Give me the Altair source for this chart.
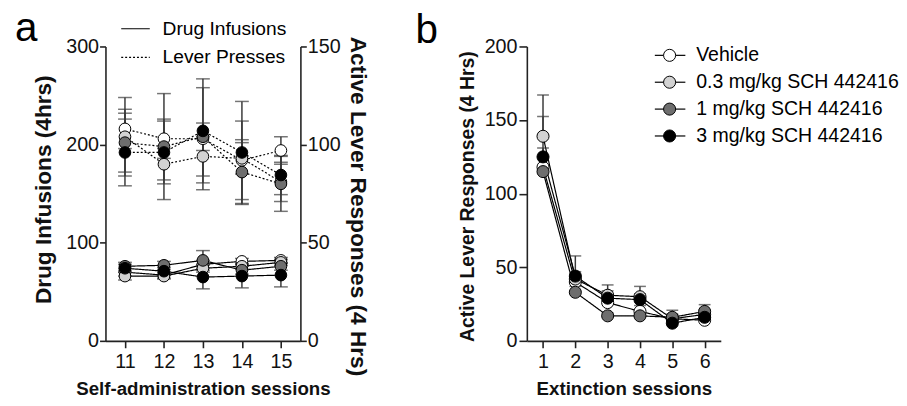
import altair as alt
import pandas as pd

FONT = "Liberation Sans"

# ---------------- data ----------------
groups = ["Vehicle", "0.3 mg/kg SCH 442416", "1 mg/kg SCH 442416", "3 mg/kg SCH 442416"]
fills = ["#ffffff", "#d2d2d2", "#6e6e6e", "#000000"]

# Panel a: self-administration sessions
sessions_a = [11, 12, 13, 14, 15]
# drug infusions (left axis)
inf_veh = [70, 67, 78, 81, 82]
inf_03 = [66, 66, 74, 76, 80]
inf_1 = [76, 77, 82, 72, 76]
inf_3 = [74, 71, 65, 66, 67]
inf_sem_veh = [4, 3, 4, 3, 3]
inf_sem_03 = [4, 3, 4, 3, 3]
inf_sem_1 = [4, 4, 10, 4, 4]
inf_sem_3 = [4, 4, 12, 12, 12]
# lever presses (right axis)
lev_veh = [108, 103, 103, 92, 97]
lev_03 = [104, 90, 94, 93, 81]
lev_1 = [101, 99, 104, 86, 80]
lev_3 = [96, 96, 107, 96, 84.5]
lev_sem_veh = [10, 10, 26, 20, 7]
lev_sem_03 = [20, 8, 10, 8, 10]
lev_sem_1 = [15, 27, 7, 16.5, 14]
lev_sem_3 = [17, 16, 26.5, 26, 10]

# Panel b: extinction sessions
sessions_b = [1, 2, 3, 4, 5, 6]
ext_veh = [118, 40, 26, 20, 15, 14]
ext_03 = [139, 42, 31, 30, 15, 18]
ext_1 = [115, 33, 17, 17, 16, 20]
ext_3 = [125, 44, 29, 28, 12, 16]
ext_sem_veh = [13, 4, 4, 4, 3, 2]
ext_sem_03 = [28, 5, 7, 7, 3, 3]
ext_sem_1 = [3, 4, 2, 2, 4.8, 4.6]
ext_sem_3 = [27.5, 13.7, 5, 4, 3, 3]

legend_a_labels = ["Drug Infusions", "Lever Presses"]
panel_labels = ["a", "b"]


def long_df(sessions, means, sems):
    rows = []
    for g, m, s in zip(groups, means, sems):
        for x, mv, sv in zip(sessions, m, s):
            rows.append({"session": x, "group": g, "mean": mv, "lo": mv - sv, "hi": mv + sv})
    return pd.DataFrame(rows)


df_inf = long_df(sessions_a, [inf_veh, inf_03, inf_1, inf_3],
                 [inf_sem_veh, inf_sem_03, inf_sem_1, inf_sem_3])
df_lev = long_df(sessions_a, [lev_veh, lev_03, lev_1, lev_3],
                 [lev_sem_veh, lev_sem_03, lev_sem_1, lev_sem_3])
df_ext = long_df(sessions_b, [ext_veh, ext_03, ext_1, ext_3],
                 [ext_sem_veh, ext_sem_03, ext_sem_1, ext_sem_3])

fill_scale = alt.Scale(domain=groups, range=fills)
AX = "#222222"
ERR = "#3a3a3a"

# ---------------- axes ----------------
x_axis_a = alt.Axis(values=sessions_a, format="d", title="Self-administration sessions",
                    labelFontSize=20, titleFontSize=19, titleFontWeight="bold",
                    tickSize=7, labelPadding=4, titlePadding=8)
x_a = alt.X("session:Q", scale=alt.Scale(domain=[10.5, 15.5], nice=False, zero=False), axis=x_axis_a)

left_axis = alt.Axis(values=[0, 100, 200, 300], title="Drug Infusions (4hrs)", orient="left",
                     labelFontSize=20, titleFontSize=23, titleFontWeight="bold",
                     tickSize=6, labelPadding=1, titlePadding=10, titleY=145)
right_axis = alt.Axis(values=[0, 50, 100, 150], title="Active Lever Responses (4 Hrs)", orient="right",
                      labelFontSize=20, titleFontSize=23, titleFontWeight="bold",
                      tickSize=6, labelPadding=1, titlePadding=6, titleY=162)

x_axis_b = alt.Axis(values=sessions_b, format="d", title="Extinction sessions",
                    labelFontSize=20, titleFontSize=19, titleFontWeight="bold",
                    tickSize=7, labelPadding=4, titlePadding=8)
x_b = alt.X("session:Q", scale=alt.Scale(domain=[0.5, 6.5], nice=False, zero=False), axis=x_axis_b)
y_axis_b = alt.Axis(values=[0, 50, 100, 150, 200], title="Active Lever Responses (4 Hrs)",
                    labelFontSize=20, titleFontSize=19.7, titleFontWeight="bold",
                    tickSize=8, labelPadding=2, titlePadding=7, titleY=152)


def series_layers(df, xx, yscale, yaxis, dash, size, cap, both=True):
    base = alt.Chart(df)
    y = alt.Y("mean:Q", scale=yscale, axis=yaxis)
    lines = base.mark_line(color="black", strokeWidth=1.2, strokeDash=dash).encode(
        x=xx, y=y, detail="group:N")
    rule = base.mark_rule(color=ERR, strokeWidth=1.5).encode(
        x=xx, y=alt.Y("lo:Q" if both else "mean:Q", scale=yscale, axis=yaxis), y2="hi:Q")
    cap_hi = base.mark_tick(orient="horizontal", size=cap, thickness=1.5, color=ERR).encode(
        x=xx, y=alt.Y("hi:Q", scale=yscale, axis=yaxis))
    layers = [rule, cap_hi]
    if both:
        cap_lo = base.mark_tick(orient="horizontal", size=cap, thickness=1.5, color=ERR).encode(
            x=xx, y=alt.Y("lo:Q", scale=yscale, axis=yaxis))
        layers.append(cap_lo)
    pts = base.mark_point(shape="circle", filled=True, size=size, stroke="black",
                          strokeWidth=1, opacity=1, fillOpacity=1).encode(
        x=xx, y=y, fill=alt.Fill("group:N", scale=fill_scale, legend=None))
    return alt.layer(lines, *layers, pts)


# ---------------- panel a ----------------
inf_layer = series_layers(df_inf, x_a, alt.Scale(domain=[0, 300], nice=False), left_axis, [1, 0], 140, 14)
lev_layer = series_layers(df_lev, x_a, alt.Scale(domain=[0, 150], nice=False), right_axis, [2, 2], 140, 14)

leg_a = []
for i, (lab, dash) in enumerate(zip(legend_a_labels, [[1, 0], [2, 2]])):
    d = pd.DataFrame({"t": [lab]})
    yv = -18 + 29 * i
    leg_a.append(alt.Chart(d).mark_rule(color="black", strokeWidth=1.2, strokeDash=dash).encode(
        x=alt.value(16), x2=alt.value(45), y=alt.value(yv)))
    leg_a.append(alt.Chart(d).mark_text(align="left", baseline="middle", fontSize=19.5, font=FONT).encode(
        x=alt.value(58), y=alt.value(yv), text="t:N"))

lab_a = alt.Chart(pd.DataFrame({"t": [panel_labels[0]]})).mark_text(
    align="left", baseline="alphabetic", fontSize=41, font=FONT).encode(
    x=alt.value(-92), y=alt.value(-6), text="t:N")

panel_a = alt.layer(inf_layer, lev_layer, *leg_a, lab_a).resolve_scale(y="independent").properties(
    width=198, height=299)

# ---------------- panel b ----------------
ext_layer = series_layers(df_ext, x_b, alt.Scale(domain=[0, 200], nice=False), y_axis_b, [1, 0], 150, 12, both=False)

leg_b = []
for i, (g, f) in enumerate(zip(groups, fills)):
    d = pd.DataFrame({"t": [g]})
    yv = 9 + 27.3 * i
    leg_b.append(alt.Chart(d).mark_rule(color="black", strokeWidth=1.2).encode(
        x=alt.value(130), x2=alt.value(161), y=alt.value(yv)))
    leg_b.append(alt.Chart(d).mark_point(shape="circle", filled=True, size=150, stroke="black",
                                         strokeWidth=1, fill=f, opacity=1).encode(
        x=alt.value(145), y=alt.value(yv)))
    leg_b.append(alt.Chart(d).mark_text(align="left", baseline="middle", fontSize=19.8, font=FONT).encode(
        x=alt.value(172), y=alt.value(yv), text="t:N"))

lab_b = alt.Chart(pd.DataFrame({"t": [panel_labels[1]]})).mark_text(
    align="left", baseline="alphabetic", fontSize=41, font=FONT).encode(
    x=alt.value(-113), y=alt.value(-4), text="t:N")

panel_b = alt.layer(ext_layer, *leg_b, lab_b).properties(width=197, height=299)

chart = alt.hconcat(panel_a, panel_b, spacing=47).properties(
    padding={"left": 7, "top": -3, "right": 0, "bottom": 0}
).configure_view(stroke=None).configure_axis(
    grid=False, domainColor=AX, tickColor=AX, domainWidth=1.6, tickWidth=1.6,
    labelColor="#111", titleColor="#111", labelFont=FONT, titleFont=FONT
).configure_text(font=FONT)

chart.save("out.html", embed_options={"renderer": "svg", "actions": False})
